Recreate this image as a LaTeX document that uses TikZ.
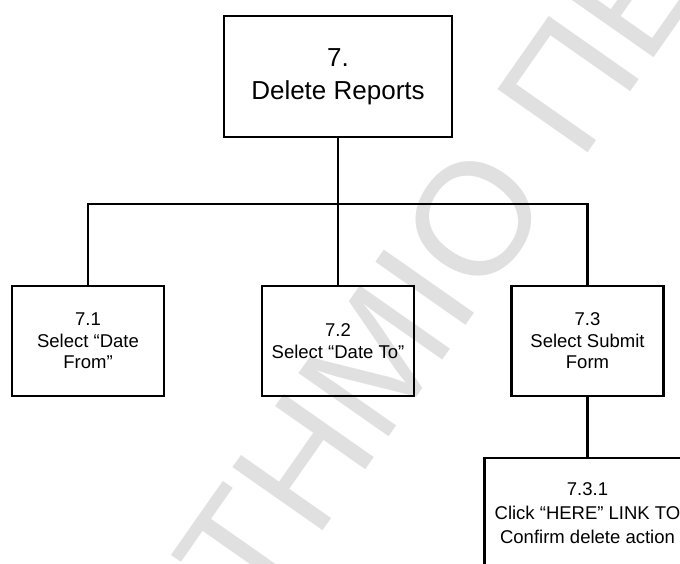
\documentclass[tikz,border=0pt]{standalone}
\usepackage{fontspec}
\setmainfont{Liberation Sans}
\begin{document}
\begin{tikzpicture}[x=1pt,y=1pt,
  box/.style={draw=black, line width=2.6pt, align=center, inner sep=0pt},
  topbox/.style={box, minimum width=228pt, minimum height=121pt,
    font=\fontsize{26}{33}\selectfont},
  subbox/.style={box, minimum width=152pt, minimum height=110pt,
    font=\fontsize{18.5}{21.5}\selectfont},
  leafbox/.style={box, minimum width=206pt, minimum height=110pt,
    font=\fontsize{18.5}{24}\selectfont},
  link/.style={line width=2.6pt},
  stamp/.style={rotate=55, anchor=base west, text=black!12, inner sep=0pt,
    font=\fontsize{160}{160}\selectfont}]
\useasboundingbox (0,0) rectangle (680,-563);
% background stamp
\node[stamp] (mark) at (259,-622) {ΤΗΜΙΟ ΠΕ};
% tree
\node[topbox] (top) at (338,-76.5) {7.\\Delete Reports};
\node[subbox] (s1) at (88,-341) {7.1\\Select “Date\\From”};
\node[subbox] (s2) at (338,-341) {7.2\\Select “Date To”};
\node[subbox] (s3) at (587.5,-341) {7.3\\Select Submit\\Form};
\node[leafbox] (s31) at (587.5,-513) {7.3.1\\Click “HERE” LINK TO\\Confirm delete action};
\coordinate (bus) at (338,-204);
\draw[link] (top.south) -- (bus);
\draw[link] (s1.north) |- (bus) -| (s3.north);
\draw[link] (bus) -- (s2.north);
\draw[link] (s3.south) -- (s31.north);
\end{tikzpicture}
\end{document}
